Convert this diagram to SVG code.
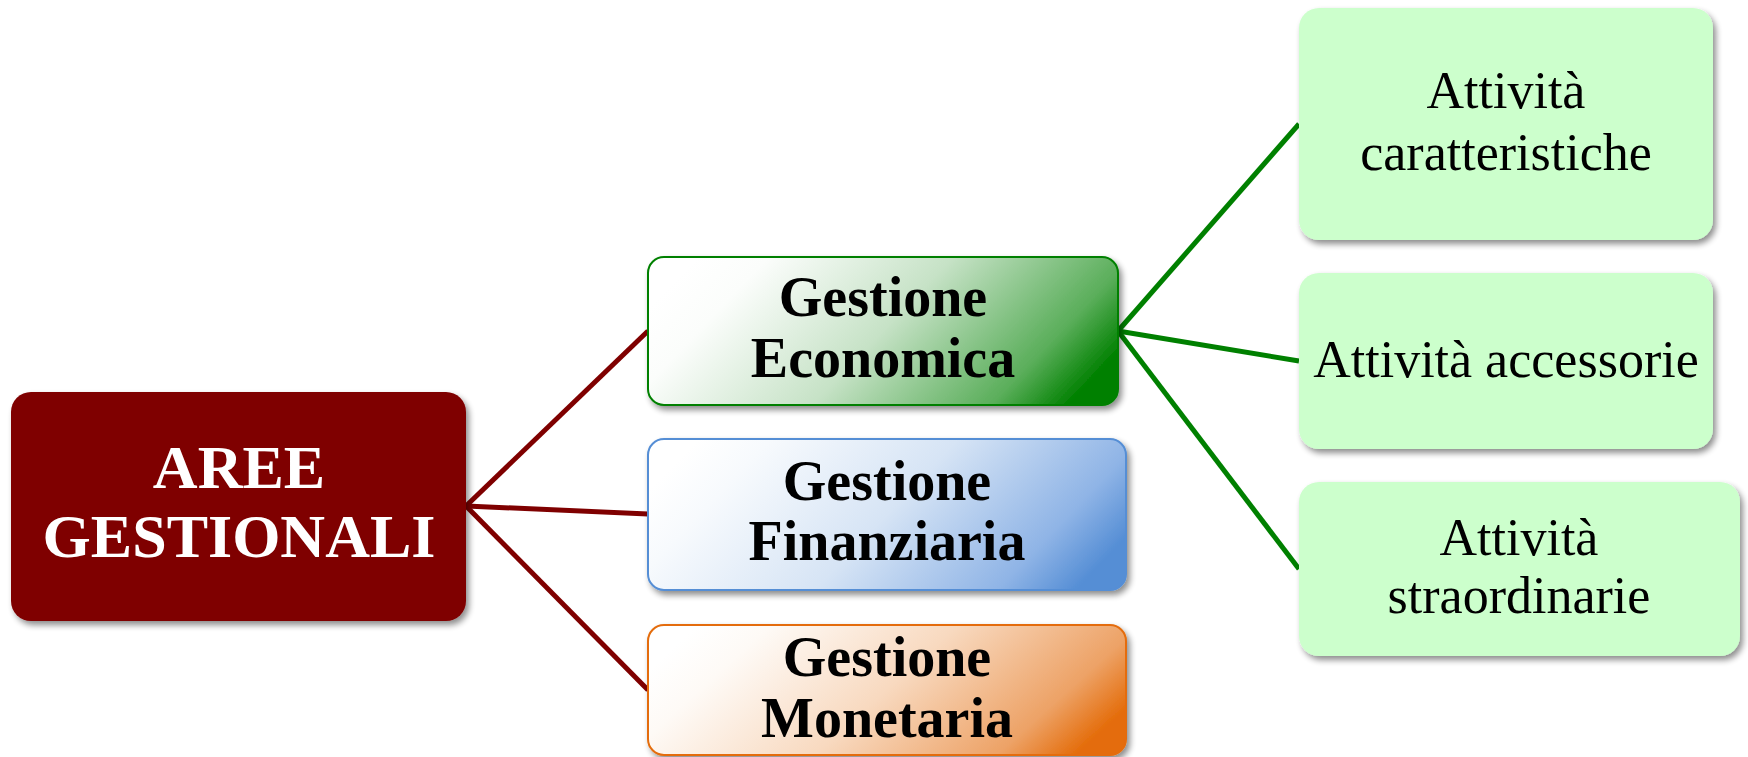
<svg xmlns="http://www.w3.org/2000/svg" width="1748" height="757" viewBox="0 0 1748 757">
<defs>
<filter id="sh" x="-10%" y="-10%" width="125%" height="130%">
<feGaussianBlur in="SourceAlpha" stdDeviation="3"/>
<feOffset dx="3" dy="4" result="b"/>
<feComponentTransfer><feFuncA type="linear" slope="0.45"/></feComponentTransfer>
<feMerge><feMergeNode/><feMergeNode in="SourceGraphic"/></feMerge>
</filter>
<linearGradient id="gG" x1="0" y1="0.35" x2="1" y2="0.65">
<stop offset="0" stop-color="#ffffff"/>
<stop offset="0.14" stop-color="#fbfdfb"/>
<stop offset="0.5" stop-color="#c6e2c6"/>
<stop offset="0.85" stop-color="#5aae5a"/>
<stop offset="1" stop-color="#008000"/>
</linearGradient>
<linearGradient id="gB" x1="0" y1="0.35" x2="1" y2="0.65">
<stop offset="0" stop-color="#ffffff"/>
<stop offset="0.14" stop-color="#f7fafd"/>
<stop offset="0.5" stop-color="#d6e4f5"/>
<stop offset="0.85" stop-color="#8fb4e6"/>
<stop offset="1" stop-color="#558ed5"/>
</linearGradient>
<linearGradient id="gO" x1="0" y1="0.35" x2="1" y2="0.65">
<stop offset="0" stop-color="#ffffff"/>
<stop offset="0.14" stop-color="#fefaf6"/>
<stop offset="0.5" stop-color="#f8d9bf"/>
<stop offset="0.85" stop-color="#eda266"/>
<stop offset="1" stop-color="#e46c0a"/>
</linearGradient>
<style>
.root{fill:#7f0000;filter:url(#sh)}
.mid{stroke-width:2;filter:url(#sh)}
.leaf{fill:#ccffcc;filter:url(#sh)}
.tr{font-family:"Liberation Serif",serif;font-weight:bold;font-size:62px;fill:#ffffff;text-anchor:middle}
.tm{font-family:"Liberation Serif",serif;font-weight:bold;font-size:56px;fill:#000000;text-anchor:middle}
.tl{font-family:"Liberation Serif",serif;font-size:52px;fill:#000000;text-anchor:middle}
.cm{stroke:#7f0000;stroke-width:5;fill:none}
.cg{stroke:#008000;stroke-width:5;fill:none}
</style>
</defs>
<rect width="1748" height="757" fill="#ffffff"/>
<g id="connectors">
<line class="cm" x1="466" y1="506" x2="648" y2="331"/>
<line class="cm" x1="466" y1="506" x2="648" y2="514"/>
<line class="cm" x1="466" y1="506" x2="648" y2="690"/>
<line class="cg" x1="1118" y1="331" x2="1299" y2="124"/>
<line class="cg" x1="1118" y1="331" x2="1299" y2="361"/>
<line class="cg" x1="1118" y1="331" x2="1299" y2="569"/>
</g>
<g id="aree">
<rect class="root" x="11" y="392" width="455" height="229" rx="20"/>
<text class="tr" x="239" y="488">AREE</text>
<text class="tr" x="239" y="557">GESTIONALI</text>
</g>
<g id="economica">
<rect class="mid" x="648" y="257" width="470" height="148" rx="16" fill="url(#gG)" stroke="#008000"/>
<text class="tm" x="883" y="316">Gestione</text>
<text class="tm" x="883" y="377">Economica</text>
</g>
<g id="finanziaria">
<rect class="mid" x="648" y="439" width="478" height="151" rx="16" fill="url(#gB)" stroke="#558ed5"/>
<text class="tm" x="887" y="500">Gestione</text>
<text class="tm" x="887" y="560">Finanziaria</text>
</g>
<g id="monetaria">
<rect class="mid" x="648" y="625" width="478" height="130" rx="16" fill="url(#gO)" stroke="#e46c0a"/>
<text class="tm" x="887" y="676">Gestione</text>
<text class="tm" x="887" y="737">Monetaria</text>
</g>
<g id="caratteristiche">
<rect class="leaf" x="1299" y="8" width="414" height="232" rx="20"/>
<text class="tl" x="1506" y="108">Attività</text>
<text class="tl" x="1506" y="170">caratteristiche</text>
</g>
<g id="accessorie">
<rect class="leaf" x="1299" y="273" width="414" height="176" rx="20"/>
<text class="tl" x="1506" y="377">Attività accessorie</text>
</g>
<g id="straordinarie">
<rect class="leaf" x="1299" y="482" width="441" height="174" rx="20"/>
<text class="tl" x="1519" y="555">Attività</text>
<text class="tl" x="1519" y="613">straordinarie</text>
</g>
</svg>
